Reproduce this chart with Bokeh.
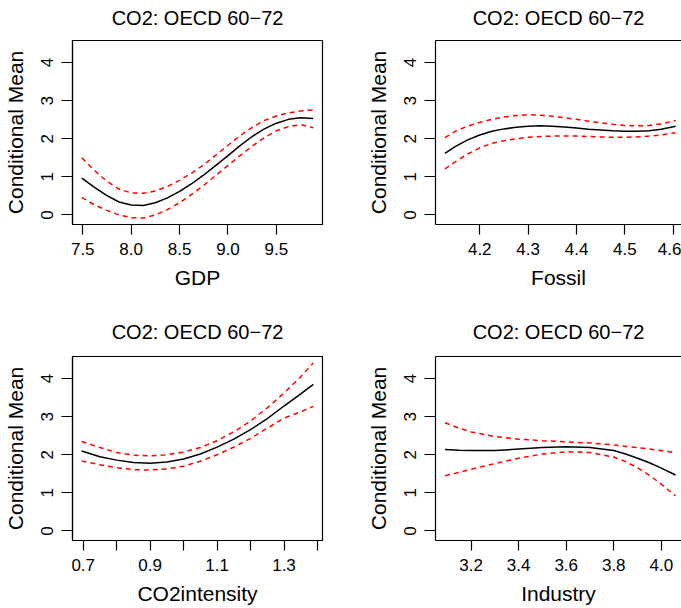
import math
from bokeh.plotting import figure
from bokeh.layouts import gridplot
from bokeh.models import FixedTicker, LinearAxis, Range1d
from bokeh.embed import file_html
from bokeh.resources import INLINE

TITLE = "CO2: OECD 60\u221272"
Y_LABEL = "Conditional Mean"
Y_TICKS = [0, 1, 2, 3, 4]
Y_TICK_LABELS = ["0", "1", "2", "3", "4"]

# Panel 1: GDP
gdp_x = [7.49, 7.625, 7.75, 7.875, 8.0, 8.125, 8.25, 8.375, 8.5, 8.625,
         8.75, 8.875, 9.0, 9.125, 9.25, 9.375, 9.5, 9.625, 9.75, 9.88]
gdp_mean = [0.97, 0.72, 0.51, 0.34, 0.26, 0.25, 0.32, 0.45, 0.62, 0.82,
            1.05, 1.30, 1.56, 1.82, 2.06, 2.26, 2.41, 2.51, 2.55, 2.53]
gdp_upper = [1.50, 1.16, 0.88, 0.68, 0.58, 0.57, 0.63, 0.75, 0.91, 1.10,
             1.32, 1.57, 1.83, 2.08, 2.30, 2.48, 2.60, 2.68, 2.73, 2.76]
gdp_lower = [0.46, 0.26, 0.12, 0.00, -0.07, -0.08, 0.00, 0.14, 0.32, 0.54,
             0.78, 1.04, 1.30, 1.56, 1.81, 2.03, 2.21, 2.32, 2.37, 2.29]
gdp_ticks = [7.5, 8.0, 8.5, 9.0, 9.5]
gdp_tick_labels = ["7.5", "8.0", "8.5", "9.0", "9.5"]

# Panel 2: Fossil
fos_x = [4.128, 4.15, 4.175, 4.2, 4.225, 4.25, 4.275, 4.3, 4.325, 4.35,
         4.375, 4.4, 4.425, 4.45, 4.475, 4.5, 4.525, 4.55, 4.575, 4.605]
fos_mean = [1.62, 1.80, 1.97, 2.10, 2.20, 2.26, 2.30, 2.33, 2.34, 2.33,
            2.31, 2.28, 2.25, 2.23, 2.21, 2.20, 2.20, 2.21, 2.25, 2.33]
fos_upper = [2.03, 2.20, 2.33, 2.43, 2.51, 2.57, 2.61, 2.63, 2.62, 2.59,
             2.55, 2.51, 2.46, 2.42, 2.38, 2.35, 2.34, 2.35, 2.39, 2.48]
fos_lower = [1.21, 1.40, 1.60, 1.76, 1.88, 1.95, 2.00, 2.04, 2.06, 2.07,
             2.07, 2.07, 2.06, 2.05, 2.04, 2.04, 2.05, 2.07, 2.10, 2.16]
fos_ticks = [4.2, 4.3, 4.4, 4.5, 4.6]
fos_tick_labels = ["4.2", "4.3", "4.4", "4.5", "4.6"]

# Panel 3: CO2intensity
co2_x = [0.695, 0.75, 0.8, 0.85, 0.9, 0.95, 1.0, 1.05, 1.1, 1.15,
         1.2, 1.25, 1.3, 1.35, 1.3876]
co2_mean = [2.10, 1.95, 1.86, 1.80, 1.78, 1.81, 1.89, 2.02, 2.20, 2.41,
            2.66, 2.95, 3.28, 3.60, 3.85]
co2_upper = [2.35, 2.19, 2.06, 1.99, 1.97, 2.00, 2.07, 2.19, 2.37, 2.60,
             2.89, 3.23, 3.62, 4.05, 4.41]
co2_lower = [1.84, 1.74, 1.66, 1.61, 1.60, 1.63, 1.70, 1.83, 2.00, 2.20,
             2.43, 2.70, 2.96, 3.13, 3.27]
co2_ticks = [0.7, 0.8, 0.9, 1.0, 1.1, 1.2, 1.3, 1.4]
co2_tick_labels = ["0.7", "", "0.9", "", "1.1", "", "1.3", ""]

# Panel 4: Industry
ind_x = [3.09, 3.15, 3.2, 3.3, 3.4, 3.5, 3.6, 3.7, 3.8, 3.85, 3.9, 3.95, 4.0, 4.06]
ind_mean = [2.14, 2.12, 2.11, 2.11, 2.15, 2.19, 2.21, 2.19, 2.11, 2.02,
            1.91, 1.79, 1.65, 1.47]
ind_upper = [2.84, 2.70, 2.60, 2.48, 2.41, 2.37, 2.34, 2.31, 2.26, 2.22,
             2.19, 2.15, 2.11, 2.05]
ind_lower = [1.45, 1.54, 1.62, 1.77, 1.91, 2.02, 2.08, 2.06, 1.94, 1.82,
             1.66, 1.46, 1.23, 0.92]
ind_ticks = [3.2, 3.4, 3.6, 3.8, 4.0]
ind_tick_labels = ["3.2", "3.4", "3.6", "3.8", "4.0"]

FONT = "Liberation Sans"
Y_RANGE = (-0.25, 4.58)


def style_axis(ax, tick_out, lab_stand, axlab_stand):
    ax.axis_line_color = "black"
    ax.axis_line_width = 1.2
    ax.major_tick_line_color = "black"
    ax.major_tick_line_width = 1.2
    ax.major_tick_out = tick_out
    ax.major_tick_in = 0
    ax.minor_tick_line_color = None
    ax.major_label_text_font = FONT
    ax.major_label_text_font_size = "17px"
    ax.major_label_text_color = "black"
    ax.major_label_standoff = lab_stand
    ax.axis_label_text_font = FONT
    ax.axis_label_text_font_size = "21px"
    ax.axis_label_text_font_style = "normal"
    ax.axis_label_text_color = "black"
    ax.axis_label_standoff = axlab_stand


def panel(xs, mean, up, lo, xr, xticks, xlabels, xlabel, width, height,
          bl, br, bt, bb, full_box, title_gap):
    p = figure(width=width, height=height, x_range=Range1d(*xr),
               y_range=Range1d(*Y_RANGE), output_backend="svg",
               toolbar_location=None,
               min_border_left=bl, min_border_right=br,
               min_border_top=bt, min_border_bottom=bb)
    p.grid.visible = False
    p.background_fill_color = "white"
    p.border_fill_color = "white"

    xa = p.below[0]
    xa.ticker = FixedTicker(ticks=xticks)
    xa.major_label_overrides = {t: l for t, l in zip(xticks, xlabels)}
    xa.axis_label = xlabel
    style_axis(xa, 10, 8, 8)

    ya = p.left[0]
    ya.ticker = FixedTicker(ticks=Y_TICKS)
    ya.major_label_overrides = {t: l for t, l in zip(Y_TICKS, Y_TICK_LABELS)}
    ya.axis_label = Y_LABEL
    ya.major_label_orientation = "parallel"
    style_axis(ya, 11, 8, 12)

    if full_box:
        p.outline_line_color = "black"
        p.outline_line_width = 1.2
        p.outline_line_alpha = 1.0
    else:
        p.outline_line_color = None

    # top border line with the panel title as its label
    top = LinearAxis(ticker=FixedTicker(ticks=[]), major_tick_out=0,
                     major_tick_in=0, major_label_text_font_size="0px",
                     major_label_standoff=0,
                     axis_line_color=None if full_box else "black",
                     axis_line_width=1.2,
                     axis_label=TITLE,
                     axis_label_text_font=FONT,
                     axis_label_text_font_size="20px",
                     axis_label_text_font_style="normal",
                     axis_label_text_color="black",
                     axis_label_standoff=title_gap)
    p.add_layout(top, "above")

    p.line(xs, up, line_color="#FF0000", line_width=1.5, line_dash="5 4")
    p.line(xs, lo, line_color="#FF0000", line_width=1.5, line_dash="5 4")
    p.line(xs, mean, line_color="black", line_width=1.5)
    return p


p1 = panel(gdp_x, gdp_mean, gdp_upper, gdp_lower, (7.394, 9.976),
           gdp_ticks, gdp_tick_labels, "GDP", 363, 304, 72, 41, 40, 80, True, 12)
p2 = panel(fos_x, fos_mean, fos_upper, fos_lower, (4.1085, 4.617),
           fos_ticks, fos_tick_labels, "Fossil", 318, 304, 71, 0, 40, 80, False, 12)
p3 = panel(co2_x, co2_mean, co2_upper, co2_lower, (0.668, 1.415),
           co2_ticks, co2_tick_labels, "CO2intensity", 363, 304, 72, 41, 52, 68, True, 14)
p4 = panel(ind_x, ind_mean, ind_upper, ind_lower, (3.050, 4.085),
           ind_ticks, ind_tick_labels, "Industry", 318, 304, 71, 0, 52, 68, False, 14)

grid = gridplot([[p1, p2], [p3, p4]], toolbar_location=None)

open("out.html", "w").write(file_html(grid, INLINE))
